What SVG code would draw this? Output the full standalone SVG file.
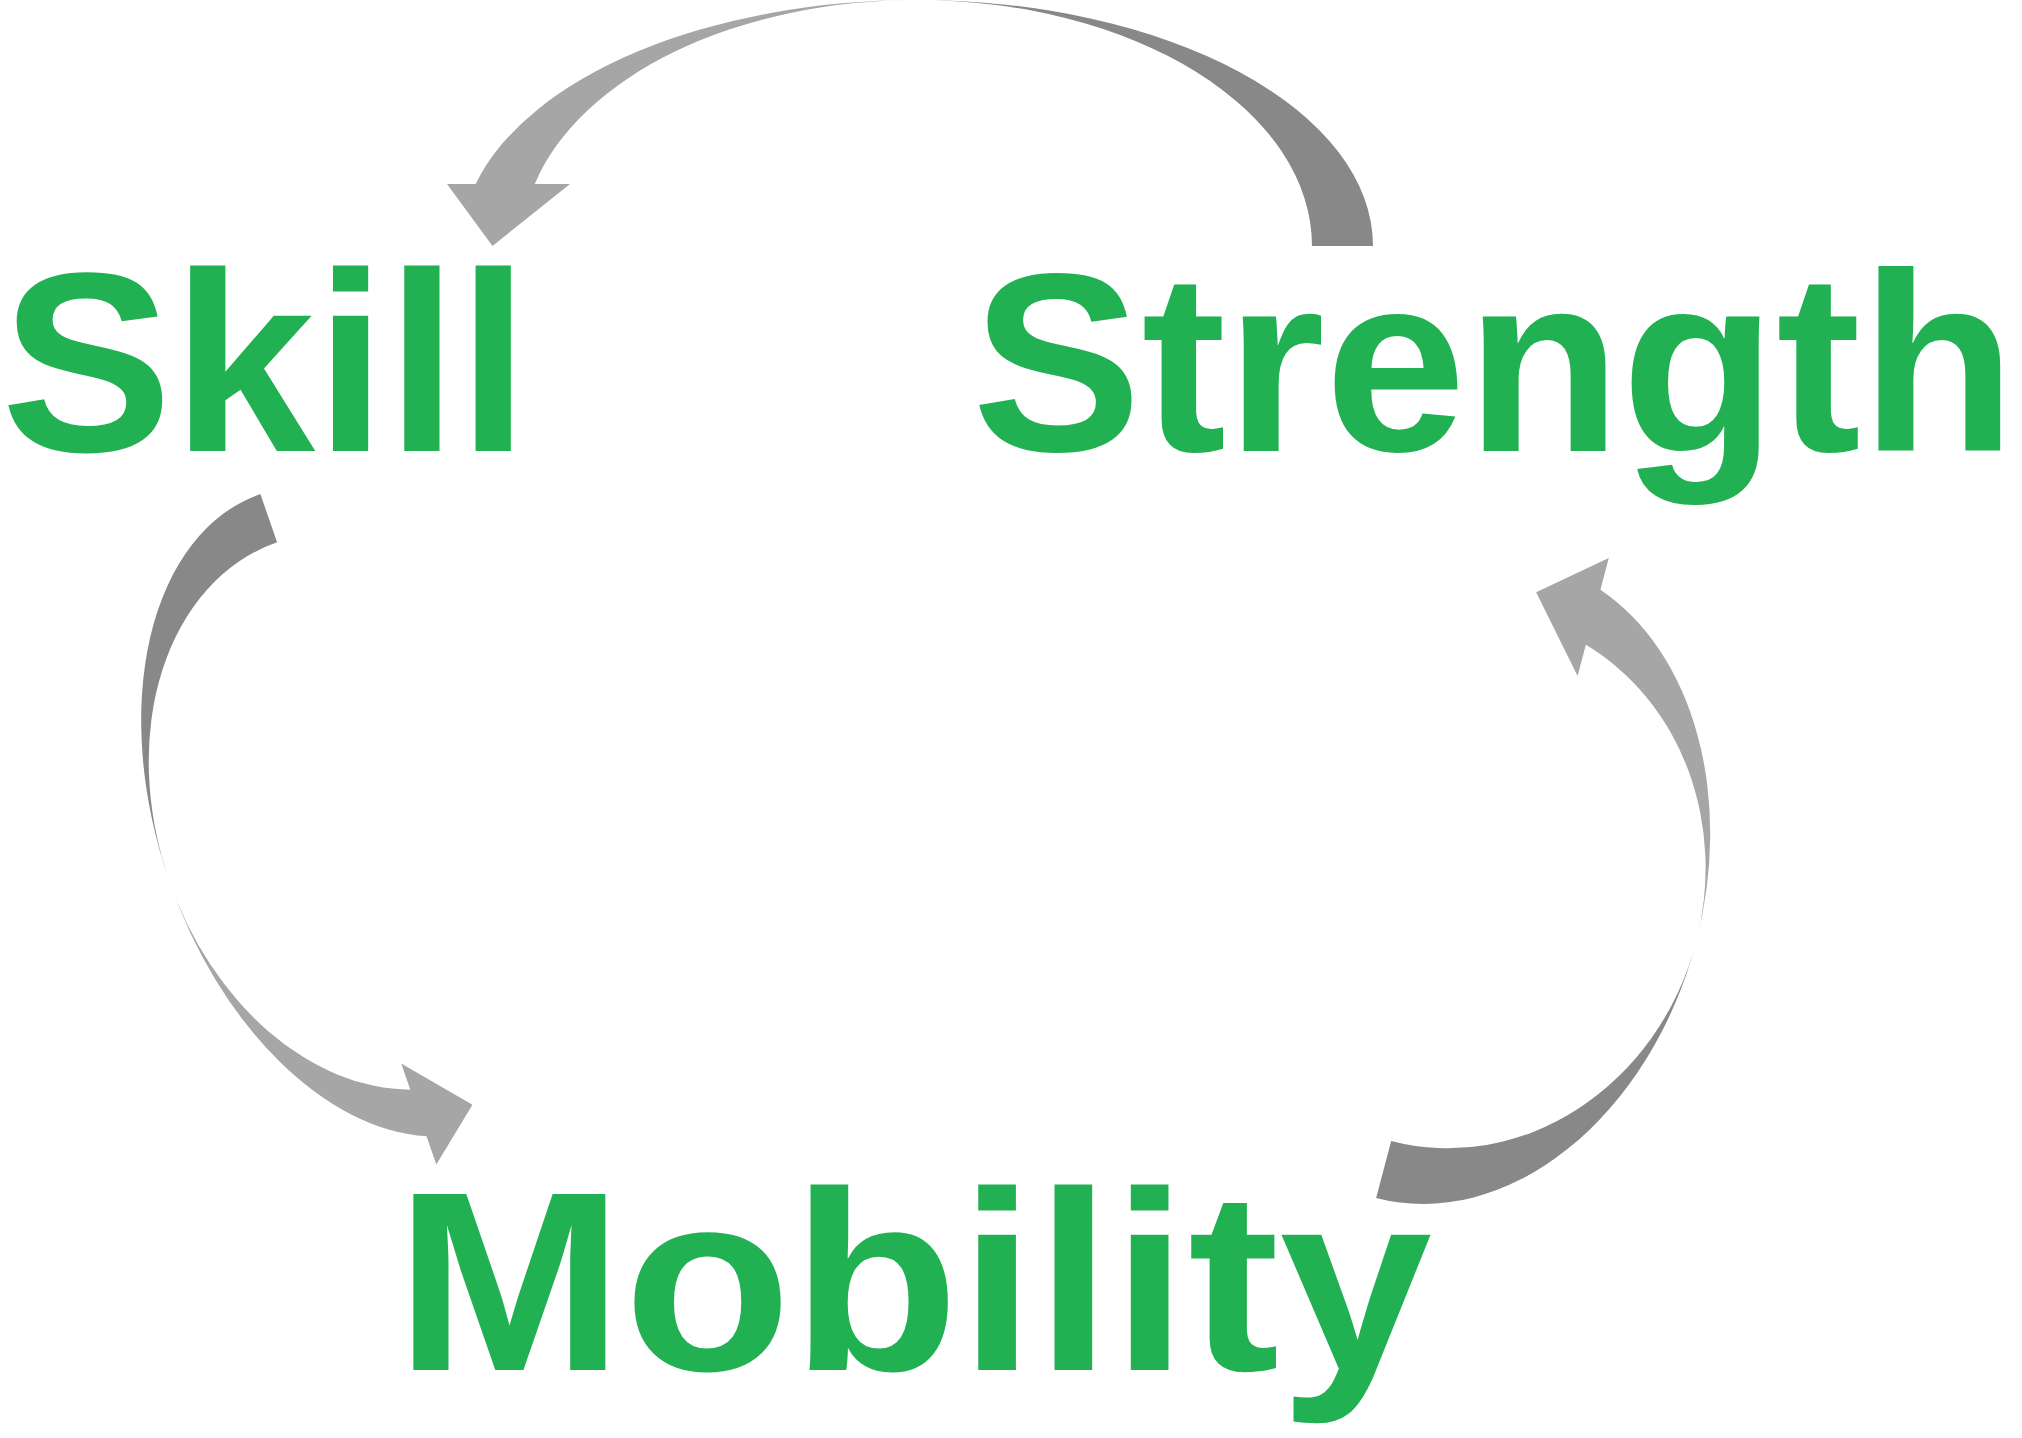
<svg xmlns="http://www.w3.org/2000/svg" width="2022" height="1438" viewBox="0 0 2022 1438">
  <style>
    .label { font-family: "Liberation Sans", Arial, sans-serif; font-weight: bold; font-size: 256px; fill: #21B153; }
    .light { fill: #A6A6A6; }
    .dark { fill: #878887; }
  </style>
  <rect width="2022" height="1438" fill="#FFFFFF"/>
  <g id="connectors">
    <g id="arrow-strength-skill" transform="translate(917,246) rotate(180)">
      <path class="dark" d="M 0,246 A 456 246 0 0 1 -456,0 L -395,0 A 395 246 0 0 0 0,246 Z"/>
      <path class="light" d="M 0,246 A 456 246 0 0 0 441.3,62 L 470,62 L 424.5,0 L 347,62 L 382.2,62 A 395 246 0 0 1 0,246 Z"/>
    </g>
    <g id="arrow-skill-mobility" transform="translate(370.6,811.5) rotate(70.85)">
      <path class="dark" d="M 0,213 A 336 213 0 0 1 -336,0 L -285,0 A 285 213 0 0 0 0,213 Z"/>
      <path class="light" d="M 0,213 A 336 213 0 0 0 325.1,53.7 L 355,53.7 L 310.5,0 L 248,53.7 L 275.8,53.7 A 285 213 0 0 1 0,213 Z"/>
    </g>
    <g id="arrow-mobility-strength" transform="translate(1459.9,880.8) rotate(-75.2)">
      <path class="dark" d="M 0,244 A 328 244 0 0 1 -328,0 L -269,0 A 269 244 0 0 0 0,244 Z"/>
      <path class="light" d="M 0,244 A 328 244 0 0 0 317.4,61.5 L 350,61.5 L 298.5,0 L 228,61.5 L 260.3,61.5 A 269 244 0 0 1 0,244 Z"/>
    </g>
  </g>
  <g id="node-skill">
    <text class="label" x="1" y="451" textLength="528" lengthAdjust="spacingAndGlyphs">Skill</text>
  </g>
  <g id="node-strength">
    <text class="label" x="972" y="451" textLength="1044" lengthAdjust="spacingAndGlyphs" style="font-size:254px">Strength</text>
  </g>
  <g id="node-mobility">
    <text class="label" x="395" y="1370" textLength="1037" lengthAdjust="spacingAndGlyphs">Mobility</text>
  </g>
</svg>
